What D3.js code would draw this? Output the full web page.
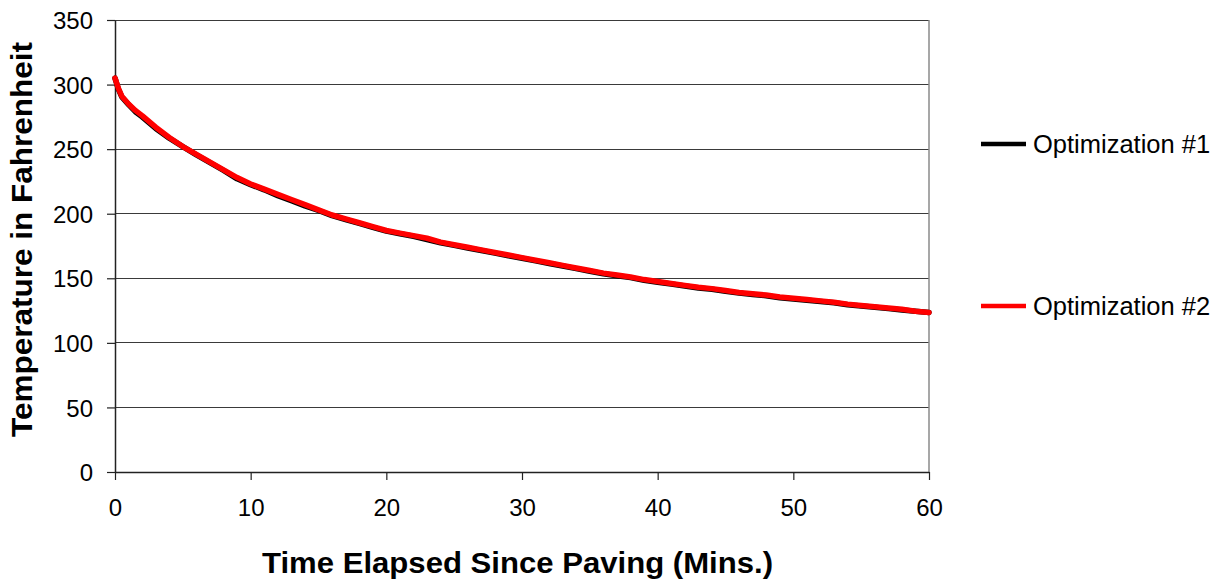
<!DOCTYPE html>
<html>
<head>
<meta charset="utf-8">
<script src="https://cdn.jsdelivr.net/npm/d3@7/dist/d3.min.js"></script>
<style>
  html, body { margin: 0; padding: 0; background: #fff; }
  svg { display: block; }
  text { font-family: "Liberation Sans", Arial, sans-serif; fill: #000; }
</style>
</head>
<body>
<svg id="chart" width="1215" height="582"></svg>
<script>
// Minutes since paving
const minutes = [0, 0.25, 0.5, 1, 1.5, 2, 3, 4, 5, 6, 7, 8, 9, 10, 11, 12, 13, 14, 15, 16, 17, 18, 19, 20,
  21, 22, 23, 24, 25, 26, 27, 28, 29, 30, 31, 32, 33, 34, 35, 36, 37, 38, 39, 40,
  41, 42, 43, 44, 45, 46, 47, 48, 49, 50, 51, 52, 53, 54, 55, 56, 57, 58, 59, 60];

// Mat temperature (°F), optimization run #1
const optimization1 = [305, 296.5, 290.5, 284.5, 279, 275, 266, 258.5, 252, 245.5, 239.5, 233.5, 227, 222.5, 218.5, 214, 210, 206, 202.5, 198.5, 195.5, 192.5, 189.5, 186.5,
  184.5, 182.5, 180, 177.5, 175.5, 173.5, 171.5, 169.5, 167.5, 165.5, 163.5, 161.5, 159.5, 157.5, 155.5, 153.5, 152, 150.5, 148.5, 147,
  145.5, 144, 142.5, 141.5, 140, 138.5, 137.5, 136.5, 135, 134, 133, 132, 131, 129.5, 128.5, 127.5, 126.5, 125.5, 124.5, 123.5];

// Mat temperature (°F), optimization run #2
const optimization2 = [305, 297, 291, 285, 280, 276, 267, 259, 252, 246, 240, 234, 228, 223, 219, 215, 211, 207, 203, 199, 196, 193, 190, 187,
  185, 183, 181, 178, 176, 174, 172, 170, 168, 166, 164, 162, 160, 158, 156, 154, 152.5, 151, 149, 147.5,
  146, 144.5, 143, 142, 140.5, 139, 138, 137, 135.5, 134.5, 133.5, 132.5, 131.5, 130, 129, 128, 127, 126, 124.5, 123.5];

const seriesNames = ["Optimization #1", "Optimization #2"];
const seriesColors = ["#000000", "#ff0000"];
const xTicks = [0, 10, 20, 30, 40, 50, 60];
const yTicks = [0, 50, 100, 150, 200, 250, 300, 350];

const svg = d3.select("#chart");
const plot = { left: 115, right: 929, top: 20, bottom: 472 };

const x = d3.scaleLinear().domain([0, 60]).range([plot.left, plot.right]);
const y = d3.scaleLinear().domain([0, 350]).range([plot.bottom, plot.top]);

// Horizontal gridlines
svg.append("g")
  .selectAll("line")
  .data(yTicks.filter(d => d > 0))
  .join("line")
  .attr("x1", plot.left).attr("x2", plot.right)
  .attr("y1", d => y(d)).attr("y2", d => y(d))
  .attr("stroke", "#3a3a3a")
  .attr("stroke-width", 1)
  .attr("shape-rendering", "crispEdges");

// Right edge of plot area
svg.append("line")
  .attr("x1", plot.right).attr("x2", plot.right)
  .attr("y1", plot.top).attr("y2", plot.bottom)
  .attr("stroke", "#8a8a8a")
  .attr("stroke-width", 1.5);

// Axes
const yAxis = d3.axisLeft(y).tickValues(yTicks).tickSize(8).tickPadding(14).tickSizeOuter(0);
const xAxis = d3.axisBottom(x).tickValues(xTicks).tickSize(8).tickPadding(19).tickSizeOuter(0);

const gy = svg.append("g").attr("transform", `translate(${plot.left},0)`).call(yAxis);
const gx = svg.append("g").attr("transform", `translate(0,${plot.bottom})`).call(xAxis);

[gx, gy].forEach(g => {
  g.selectAll("path.domain").attr("stroke", "#222").attr("stroke-width", 1.5);
  g.selectAll(".tick line").attr("stroke", "#222").attr("stroke-width", 1.2);
  g.selectAll(".tick text")
    .attr("font-family", "'Liberation Sans', Arial, sans-serif")
    .attr("font-size", 24)
    .attr("fill", "#000");
});
gy.selectAll(".tick text").attr("dy", "0.36em");

// Temperature curves
const line = d3.line()
  .x((d, i) => x(minutes[i]))
  .y(d => y(d))
  .curve(d3.curveLinear);

[optimization1, optimization2].forEach((vals, k) => {
  svg.append("path")
    .datum(vals)
    .attr("d", line)
    .attr("fill", "none")
    .attr("stroke", seriesColors[k])
    .attr("stroke-width", 5.5)
    .attr("stroke-linejoin", "round")
    .attr("stroke-linecap", "round");
});

// Legend
const legendRows = [144, 306];
const legend = svg.append("g");
seriesNames.forEach((name, k) => {
  legend.append("line")
    .attr("x1", 981).attr("x2", 1026)
    .attr("y1", legendRows[k]).attr("y2", legendRows[k])
    .attr("stroke", seriesColors[k])
    .attr("stroke-width", 4.5);
  legend.append("text")
    .attr("x", 1033)
    .attr("y", legendRows[k] + 9)
    .attr("font-size", 25.5)
    .text(name);
});

// Axis titles
svg.append("text")
  .attr("x", 517.5)
  .attr("y", 573)
  .attr("text-anchor", "middle")
  .attr("font-size", 29)
  .attr("font-weight", "bold")
  .attr("textLength", 511)
  .attr("lengthAdjust", "spacingAndGlyphs")
  .text("Time Elapsed Since Paving (Mins.)");

svg.append("text")
  .attr("transform", "translate(32,239.5) rotate(-90)")
  .attr("text-anchor", "middle")
  .attr("font-size", 30)
  .attr("font-weight", "bold")
  .attr("textLength", 395)
  .attr("lengthAdjust", "spacingAndGlyphs")
  .text("Temperature in Fahrenheit");
</script>
</body>
</html>
